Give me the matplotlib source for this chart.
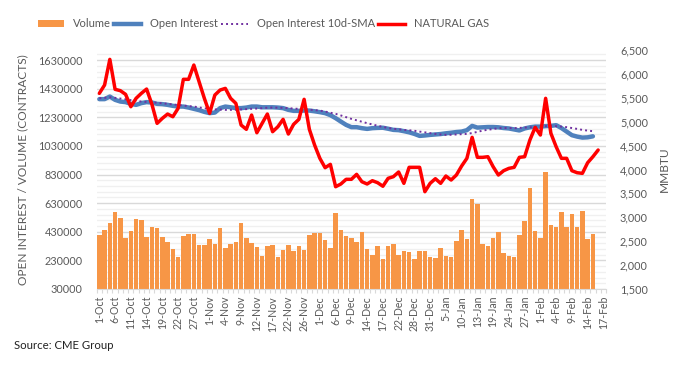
"""Natural gas futures: volume, open interest and price (CME)."""
import matplotlib
matplotlib.use("Agg")
import matplotlib.pyplot as plt
from matplotlib.lines import Line2D
from matplotlib.patches import Patch
from matplotlib.ticker import FuncFormatter, FixedLocator
import numpy as np

plt.rcParams["font.family"] = ["Lato", "DejaVu Sans"]

DATES = [
    "1-Oct", "4-Oct", "5-Oct", "6-Oct", "7-Oct", "8-Oct", "11-Oct", "12-Oct", "13-Oct", "14-Oct",
    "15-Oct", "18-Oct", "19-Oct", "20-Oct", "21-Oct", "22-Oct", "25-Oct", "26-Oct", "27-Oct", "28-Oct",
    "29-Oct", "1-Nov", "2-Nov", "3-Nov", "4-Nov", "5-Nov", "8-Nov", "9-Nov", "10-Nov", "11-Nov",
    "12-Nov", "15-Nov", "16-Nov", "17-Nov", "18-Nov", "19-Nov", "22-Nov", "23-Nov", "24-Nov", "26-Nov",
    "29-Nov", "30-Nov", "1-Dec", "2-Dec", "3-Dec", "6-Dec", "7-Dec", "8-Dec", "9-Dec", "10-Dec",
    "13-Dec", "14-Dec", "15-Dec", "16-Dec", "17-Dec", "20-Dec", "21-Dec", "22-Dec", "23-Dec", "27-Dec",
    "28-Dec", "29-Dec", "30-Dec", "31-Dec", "3-Jan", "4-Jan", "5-Jan", "6-Jan", "7-Jan", "10-Jan",
    "11-Jan", "12-Jan", "13-Jan", "14-Jan", "18-Jan", "19-Jan", "20-Jan", "21-Jan", "24-Jan", "25-Jan",
    "26-Jan", "27-Jan", "28-Jan", "31-Jan", "1-Feb", "2-Feb", "3-Feb", "4-Feb", "7-Feb", "8-Feb",
    "9-Feb", "10-Feb", "11-Feb", "14-Feb", "15-Feb", "16-Feb", "17-Feb",
]

volume = [
    405000, 440000, 489000, 566000, 524000, 384000, 433000, 517000, 510000, 391000,
    461000, 454000, 391000, 357000, 308000, 252000, 398000, 412000, 412000, 336000,
    336000, 377000, 343000, 454000, 315000, 343000, 357000, 489000, 384000, 350000,
    322000, 259000, 329000, 336000, 252000, 301000, 336000, 294000, 329000, 301000,
    405000, 419000, 419000, 370000, 315000, 560000, 440000, 398000, 384000, 357000,
    426000, 308000, 266000, 329000, 238000, 329000, 345000, 266000, 294000, 287000,
    238000, 294000, 294000, 252000, 245000, 315000, 259000, 252000, 364000, 440000,
    377000, 657000, 622000, 343000, 329000, 384000, 426000, 280000, 259000, 252000,
    405000, 503000, 734000, 433000, 384000, 846000, 475000, 461000, 566000, 461000,
    552000, 461000, 573000, 377000, 412000,
]

open_interest = [
    1357000, 1357000, 1375000, 1352000, 1340000, 1336000, 1324000, 1317000, 1329000, 1336000,
    1333000, 1324000, 1322000, 1317000, 1310000, 1305000, 1305000, 1298000, 1289000, 1280000,
    1268000, 1259000, 1263000, 1294000, 1305000, 1300000, 1294000, 1294000, 1298000, 1305000,
    1305000, 1300000, 1300000, 1300000, 1298000, 1294000, 1282000, 1275000, 1275000, 1277000,
    1277000, 1272000, 1266000, 1259000, 1245000, 1224000, 1200000, 1177000, 1161000, 1161000,
    1154000, 1149000, 1154000, 1156000, 1157000, 1150000, 1142000, 1140000, 1133000, 1125000,
    1114000, 1100000, 1103000, 1107000, 1110000, 1113000, 1118000, 1122000, 1127000, 1130000,
    1140000, 1170000, 1158000, 1160000, 1162000, 1162000, 1160000, 1155000, 1152000, 1145000,
    1138000, 1152000, 1160000, 1165000, 1165000, 1168000, 1170000, 1175000, 1155000, 1130000,
    1105000, 1095000, 1088000, 1090000, 1097000,
]

oi_sma10 = [
    1363000, 1366000, 1370000, 1366000, 1361000, 1356000, 1350000, 1345000, 1340000, 1337000,
    1335000, 1331000, 1328000, 1324000, 1320000, 1316000, 1312000, 1308000, 1305000, 1299000,
    1293000, 1287000, 1285000, 1284000, 1282000, 1282000, 1283000, 1285000, 1287000, 1289000,
    1291000, 1294000, 1297000, 1298000, 1297000, 1296000, 1294000, 1291000, 1289000, 1287000,
    1283000, 1280000, 1277000, 1270000, 1262000, 1254000, 1243000, 1231000, 1219000, 1209000,
    1199000, 1189000, 1180000, 1171000, 1163000, 1155000, 1150000, 1146000, 1142000, 1139000,
    1136000, 1130000, 1125000, 1119000, 1114000, 1110000, 1107000, 1108000, 1110000, 1112000,
    1114000, 1120000, 1128000, 1137000, 1143000, 1148000, 1154000, 1155000, 1155000, 1154000,
    1156000, 1158000, 1160000, 1162000, 1165000, 1168000, 1170000, 1168000, 1165000, 1161000,
    1155000, 1149000, 1142000, 1137000, 1133000,
]

nat_gas = [
    5594, 5768, 6305, 5678, 5650, 5573, 5314, 5490, 5594, 5684,
    5370, 4966, 5071, 5161, 5105, 5280, 5887, 5887, 6186, 5837,
    5490, 5176, 5558, 5663, 5698, 5490, 5385, 4931, 4841, 5140,
    4770, 4966, 5161, 4791, 4895, 5050, 4743, 4945, 5050, 5469,
    4841, 4512, 4234, 4038, 4108, 3640, 3697, 3795, 3795, 3899,
    3745, 3697, 3766, 3724, 3650, 3816, 3850, 3948, 3711, 4046,
    4046, 4046, 3536, 3711, 3808, 3711, 3864, 3780, 3885, 4073,
    4234, 4673, 4255, 4255, 4268, 4059, 3885, 3975, 4024, 4046,
    4255, 4268, 4617, 4882, 4722, 5490, 4757, 4477, 4234, 4234,
    3975, 3933, 3920, 4142, 4268, 4408,
]

GREY = "#595959"
C_VOL = "#F79646"
C_OI = "#4F81BD"
C_SMA = "#7030A0"
C_NG = "#FF0000"

fig = plt.figure(figsize=(6.82, 3.68), dpi=100)
ax = fig.add_axes([0.1418, 0.2147, 0.7468, 0.6493])
ax2 = ax.twinx()

x = np.arange(len(DATES))
ax.bar(x[:len(volume)], volume, width=0.85, color=C_VOL, zorder=2)
ax.plot(x[:len(open_interest)], open_interest, color=C_OI, lw=3.2,
        solid_capstyle="round", zorder=3)
ax.plot(x[:len(oi_sma10)], oi_sma10, color=C_SMA, lw=1.4, ls=(0, (1, 1.6)), zorder=4)
ax2.plot(x[:len(nat_gas)], nat_gas, color=C_NG, lw=2.5,
         solid_capstyle="round", solid_joinstyle="round")

# primary axis (contracts)
ax.set_xlim(-0.5, len(DATES) - 0.5)
ax.set_ylim(30000, 1700000)
ax.set_yticks(np.arange(30000, 1700001, 200000))
ax.yaxis.set_major_formatter(FuncFormatter(lambda v, p: f"{v:.0f}"))
ax.yaxis.set_minor_locator(FixedLocator(np.arange(30000, 1700001, 40000)))
ax.yaxis.grid(True, which="major", color="#d9d9d9", lw=1.0, zorder=0)
ax.yaxis.grid(True, which="minor", color="#f0f0f0", lw=1.0, zorder=0)
ax.set_axisbelow(True)
ax.tick_params(axis="y", which="both", length=0, labelsize=7.8, labelcolor=GREY, pad=10)

ax.set_xticks(x[::3])
ax.set_xticklabels(DATES[::3], rotation=90)
ax.xaxis.set_minor_locator(FixedLocator(np.arange(-0.5, len(DATES), 1.0)))
ax.tick_params(axis="x", which="major", length=0, labelsize=7.6, labelcolor=GREY, pad=5)
ax.tick_params(axis="x", which="minor", length=3, color="#d9d9d9", width=0.8)

for side in ("left", "right", "top"):
    ax.spines[side].set_visible(False)
ax.spines["bottom"].set_color("#d9d9d9")

ax.set_ylabel("OPEN INTEREST / VOLUME (CONTRACTS)", color=GREY, fontsize=8.6, labelpad=7)

# secondary axis (price)
ax2.set_ylim(1500, 6500)
ax2.set_yticks(np.arange(1500, 6501, 500))
ax2.yaxis.set_major_formatter(FuncFormatter(lambda v, p: f"{v:,.0f}"))
ax2.tick_params(axis="y", length=0, labelsize=7.8, labelcolor=GREY, pad=10)
for side in ax2.spines:
    ax2.spines[side].set_visible(False)
ax2.set_ylabel("MMBTU", color=GREY, fontsize=8.6, labelpad=8)

handles = [
    Patch(facecolor=C_VOL, edgecolor="none"),
    Line2D([], [], color=C_OI, lw=3.2),
    Line2D([], [], color=C_SMA, lw=1.4, ls=(0, (1, 1.6))),
    Line2D([], [], color=C_NG, lw=2.5),
]
labels = ["Volume", "Open Interest", "Open Interest 10d-SMA", "NATURAL GAS"]
leg = fig.legend(handles, labels, loc="center", bbox_to_anchor=(0.386, 0.935), ncol=4,
                 frameon=False, fontsize=8.0, handlelength=2.4, handletextpad=0.8,
                 columnspacing=0.3)
for t in leg.get_texts():
    t.set_color(GREY)

fig.text(0.02, 0.052, "Source: CME Group", fontsize=8.2, color="#222222")

fig.savefig("out.png", dpi=100)
